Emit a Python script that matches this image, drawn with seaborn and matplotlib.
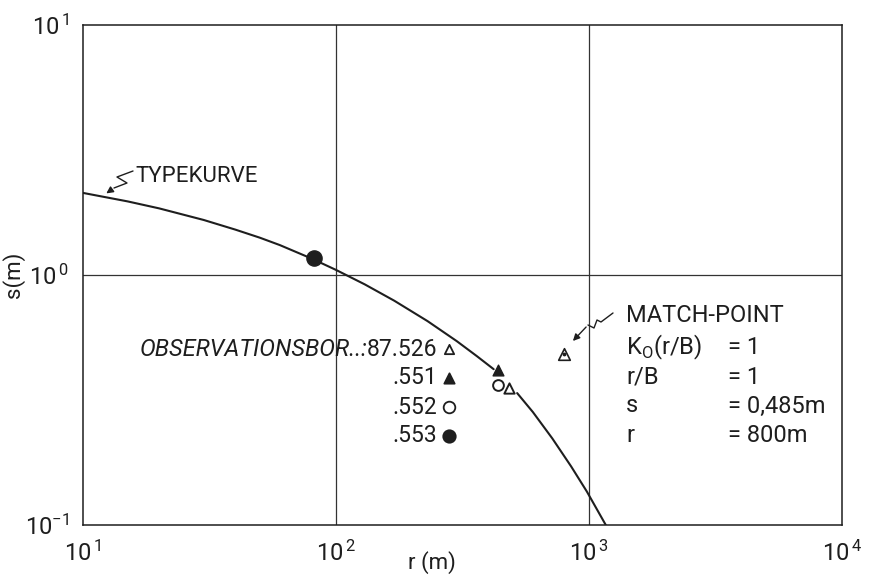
import matplotlib
matplotlib.use("Agg")
import matplotlib.pyplot as plt
import seaborn as sns
import pandas as pd

# ---- data ----
curve_r_upper = [10, 15, 20, 30, 40, 50, 60, 80, 100, 130, 170, 230, 300, 360, 420]
curve_s_upper = [2.13, 1.97, 1.847, 1.66, 1.519, 1.41, 1.317, 1.164, 1.048, 0.917, 0.789, 0.654, 0.544, 0.474, 0.42]
curve_r_lower = [520, 600, 716, 850, 981, 1165]
curve_s_lower = [0.337, 0.283, 0.222, 0.1715, 0.136, 0.1]

obs_labels = ["87.526", ".551", ".552", ".553"]
obs_r = [481, 438, 438, 82]
obs_s = [0.353, 0.417, 0.363, 1.17]

match_r = [800]
match_s = [0.485]

x_ticks = [10, 100, 1000, 10000]
x_tick_labels = [r"$\mathregular{10^{\,1}}$", r"$\mathregular{10^{\,2}}$",
                 r"$\mathregular{10^{\,3}}$", r"$\mathregular{10^{\,4}}$"]
y_ticks = [0.1, 1, 10]
y_tick_labels = [r"$\mathregular{10^{-1}}$", r"$\mathregular{10^{\,0}}$", r"$\mathregular{10^{\,1}}$"]

sns.set_theme(style="white")
plt.rcParams['font.family'] = ['Roboto', 'DejaVu Sans']
plt.rcParams['mathtext.fontset'] = 'custom'
plt.rcParams['mathtext.rm'] = 'Roboto'
INK = "#1e1e1e"

fig = plt.figure(figsize=(8.72, 5.77), dpi=100)
ax = fig.add_axes([83/872, 1-525/577, 759/872, 500/577])
ax.set_xscale("log")
ax.set_yscale("log")
ax.set_xlim(10, 10000)
ax.set_ylim(0.1, 10)

# grid at decades
for gx in [100, 1000]:
    ax.axvline(gx, color="#333333", lw=0.9, zorder=1)
ax.axhline(1, color="#333333", lw=0.9, zorder=1)

df_up = pd.DataFrame({"r": curve_r_upper, "s": curve_s_upper})
df_lo = pd.DataFrame({"r": curve_r_lower, "s": curve_s_lower})
sns.lineplot(data=df_up, x="r", y="s", ax=ax, color=INK, lw=1.5, sort=False, zorder=3)
sns.lineplot(data=df_lo, x="r", y="s", ax=ax, color=INK, lw=1.5, sort=False, zorder=3)

# observation points
ax.scatter(obs_r[0], obs_s[0], marker="^", s=55, facecolor="white", edgecolor=INK, linewidth=1.4, zorder=5)
ax.scatter(obs_r[1], obs_s[1], marker="^", s=60, facecolor=INK, edgecolor=INK, zorder=5)
ax.scatter(obs_r[2], obs_s[2], marker="o", s=60, facecolor="white", edgecolor=INK, linewidth=1.4, zorder=5)
ax.scatter(obs_r[3], obs_s[3], marker="o", s=120, facecolor=INK, edgecolor=INK, zorder=5)

# match point
ax.scatter(match_r, match_s, marker="^", s=70, facecolor="white", edgecolor=INK, linewidth=1.2, zorder=5)
ax.scatter(match_r, match_s, marker="o", s=3, color=INK, zorder=6)

for sp in ax.spines.values():
    sp.set_color(INK)
    sp.set_linewidth(1.1)

ax.set_xticks(x_ticks)
ax.set_xticklabels(x_tick_labels)
ax.set_yticks(y_ticks)
ax.set_yticklabels(y_tick_labels)
ax.minorticks_off()
ax.tick_params(axis="both", direction="out", length=6, width=1, color=INK,
               labelsize=17, labelcolor=INK, pad=4)
ax.tick_params(axis="x", pad=5)
ax.set_xlabel("r (m)", fontsize=16, color=INK)
ax.set_ylabel("s(m)", fontsize=16, color=INK, labelpad=0)
ax.xaxis.set_label_coords(0.46, -0.052)

def px(x, y):
    return ((x - 83) / 759, (525 - y) / 500)

# TYPEKURVE label with squiggle arrow
ax.text(*px(135, 177), "TYPEKURVE", transform=ax.transAxes, fontsize=16, color=INK,
        va="center", ha="left")
sq = [px(133, 171), px(117, 177), px(127, 183), px(114, 188)]
ax.plot([p[0] for p in sq], [p[1] for p in sq], transform=ax.transAxes, color=INK, lw=1, clip_on=False)
ax.annotate("", xy=px(104, 195), xycoords="axes fraction", xytext=sq[-1], textcoords="axes fraction",
            arrowprops=dict(arrowstyle="-|>", color=INK, lw=1, mutation_scale=10))

# MATCH-POINT annotation with squiggle arrow
sq2 = [px(613, 313), px(601, 322), px(597, 320), px(594, 328), px(588, 325)]
ax.plot([p[0] for p in sq2], [p[1] for p in sq2], transform=ax.transAxes, color=INK, lw=1, clip_on=False)
ax.annotate("", xy=px(571, 343), xycoords="axes fraction", xytext=sq2[-1], textcoords="axes fraction",
            arrowprops=dict(arrowstyle="-|>", color=INK, lw=1, mutation_scale=10))

mlines_left = ["MATCH-POINT", r"K$_\mathregular{O}$(r/B)", "r/B", "s", "r"]
mlines_right = ["", "= 1", "= 1", "= 0,485m", "= 800m"]
ys = [315, 347, 377, 406, 436]
for l, r_, yy in zip(mlines_left, mlines_right, ys):
    ax.text(*px(626, yy), l, transform=ax.transAxes, fontsize=17, color=INK, va="center", ha="left")
    if r_:
        ax.text(*px(728, yy), r_, transform=ax.transAxes, fontsize=17, color=INK, va="center", ha="left")

# legend for observation wells
ax.text(*px(367, 349), "OBSERVATIONSBOR..:", transform=ax.transAxes, fontsize=17, color=INK,
        va="center", ha="right", style="italic")
leg_y = [349, 378, 407, 436]
leg_x_end = 437
for lab, yy in zip(obs_labels, leg_y):
    ax.text(*px(leg_x_end, yy), lab, transform=ax.transAxes, fontsize=16.5, color=INK, va="center",
            ha="right")
mk = [("^", "white", 45), ("^", INK, 55), ("o", "white", 70), ("o", INK, 80)]
for (m, fc, sz), yy in zip(mk, leg_y):
    ax.scatter(*px(449, yy), marker=m, s=sz, facecolor=fc, edgecolor=INK, linewidth=1.3,
               transform=ax.transAxes, zorder=5, clip_on=False)

fig.savefig("out.png", dpi=100, facecolor="white")
